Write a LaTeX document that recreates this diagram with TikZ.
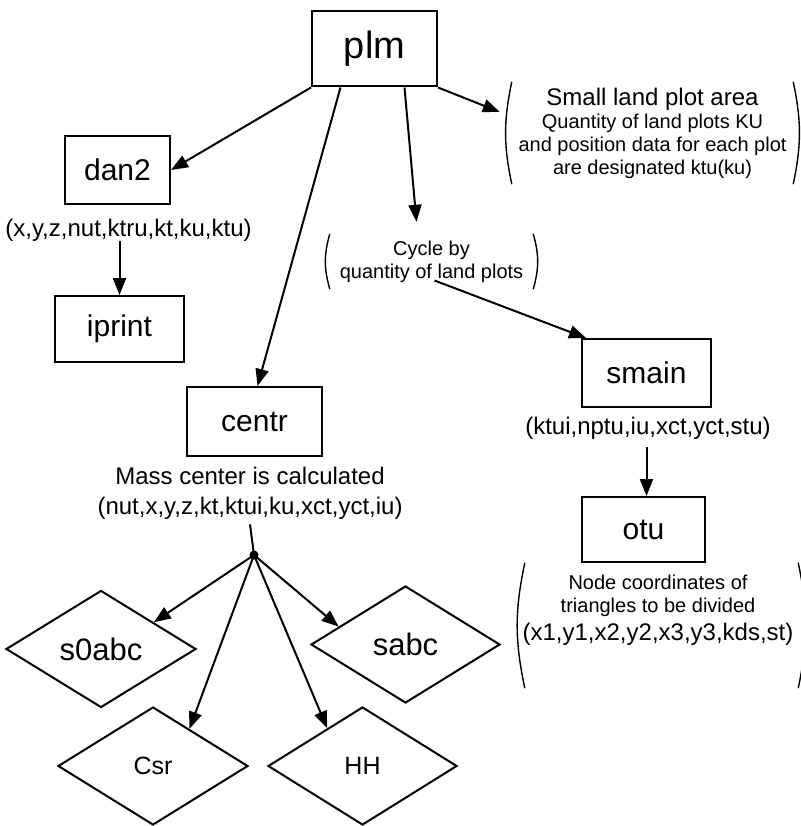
\documentclass[tikz,border=0pt]{standalone}
\usepackage{fontspec}
\setmainfont{Liberation Sans}
\usetikzlibrary{arrows.meta,shapes.geometric,calc}

\begin{document}
\begin{tikzpicture}[
        x=1pt, y=-1pt,
        box/.style={rectangle, draw, line width=2pt, inner sep=0pt, font=\fontsize{30}{30}\selectfont},
        dia/.style={diamond, draw, line width=2pt, inner sep=0pt, font=\fontsize{31}{31}\selectfont},
        lbl/.style={inner sep=0pt, align=center, font=\fontsize{24}{30}\selectfont},
        note/.style={inner sep=0pt, align=center, font=\fontsize{20}{23}\selectfont},
        paren/.style={line width=1.4pt},
        arrow/.style={-{Triangle[length=17pt,width=13pt]}, line width=2pt}
    ]
        \useasboundingbox (0,0) rectangle (800,826);

        \node[box, minimum width=125pt, minimum height=75pt, font=\fontsize{38}{38}\selectfont] (plm) at (374.5,49) {plm};
        \node[box, minimum width=105pt, minimum height=68pt] (dan2)   at (117.5,170) {dan2};
        \node[box, minimum width=129pt, minimum height=66pt] (iprint) at (119.5,329) {iprint};
        \node[box, minimum width=135pt, minimum height=69pt] (centr)  at (254.5,421.5) {centr};
        \node[box, minimum width=129pt, minimum height=68pt] (smain)  at (646.5,373) {smain};
        \node[box, minimum width=123pt, minimum height=65pt] (otu)    at (643.5,529.5) {otu};

        \node[lbl] (dpar)  at (128.5,230) {(x,y,z,nut,ktru,kt,ku,ktu)};
        \node[lbl] (ctext) at (250,493) {Mass center is calculated\\(nut,x,y,z,kt,ktui,ku,xct,yct,iu)};
        \node[lbl] (spar)  at (648,428) {(ktui,nptu,iu,xct,yct,stu)};

        % notes in brackets
        \node[note, minimum width=281pt, minimum height=102pt] (area) at (652.5,133)
            {{\fontsize{24}{24}\selectfont Small land plot area}\\Quantity of land plots KU\\and position data for each plot\\are designated ktu(ku)};
        \node[note, minimum width=203pt, minimum height=55pt] (cyc) at (431.5,261.5)
            {Cycle by\\quantity of land plots};
        \node[note, minimum width=273pt, minimum height=125pt] (tri) at (661.5,625.5) {};
        \node[note] (tritext) at (658,610.5)
            {Node coordinates of\\triangles to be divided\\[5pt]{\fontsize{24}{24}\selectfont (x1,y1,x2,y2,x3,y3,kds,st)}};
        \foreach \n/\b in {area/12, cyc/16, tri/12} {
            \draw[paren] (\n.north west) to[bend right=\b] (\n.south west);
            \draw[paren] (\n.north east) to[bend left=\b] (\n.south east);
        }

        \node[dia, minimum width=190pt, minimum height=117pt] (s0abc) at (101,649) {s0abc};
        \node[dia, minimum width=189pt, minimum height=117pt] (sabc)  at (405.5,644.5) {sabc};
        \node[dia, minimum width=190pt, minimum height=118pt, font=\fontsize{25}{25}\selectfont] (csr) at (153,766) {Csr};
        \node[dia, minimum width=189pt, minimum height=118pt, font=\fontsize{25}{25}\selectfont] (hh)  at (362.5,766) {HH};

        \coordinate (hub) at (254,555);
        \fill (hub) circle (4.5pt);

        \draw[arrow] (plm.south west) -- (dan2.east);
        \draw[arrow] ([xshift=-34pt]plm.south) -- ([xshift=3pt]centr.north);
        \draw[arrow] ([xshift=30pt]plm.south) -- ([xshift=-15pt,yshift=12pt]cyc.north);
        \draw[arrow] (plm.south east) -- ([xshift=-12pt,yshift=21pt]area.west);
        \draw[arrow] (dpar.south -| iprint.north) -- (iprint.north);
        \draw[arrow] ([xshift=3pt,yshift=-19pt]cyc.center) -- ([xshift=5pt]smain.north west);
        \draw[arrow] (smain.south |- spar.south) ++(0,8) -- (smain.south |- otu.north);
        \draw[line width=2pt] ([yshift=-5pt]ctext.south) -- (hub);
        \draw[arrow] (hub) -- ($(s0abc.north)!0.55!(s0abc.east)$);
        \draw[arrow] (hub) -- ($(csr.north)!0.38!(csr.east)$);
        \draw[arrow] (hub) -- ($(hh.north)!0.37!(hh.west)$);
        \draw[arrow] (hub) -- ($(sabc.north)!0.7!(sabc.west)$);
    \end{tikzpicture}
\end{document}
